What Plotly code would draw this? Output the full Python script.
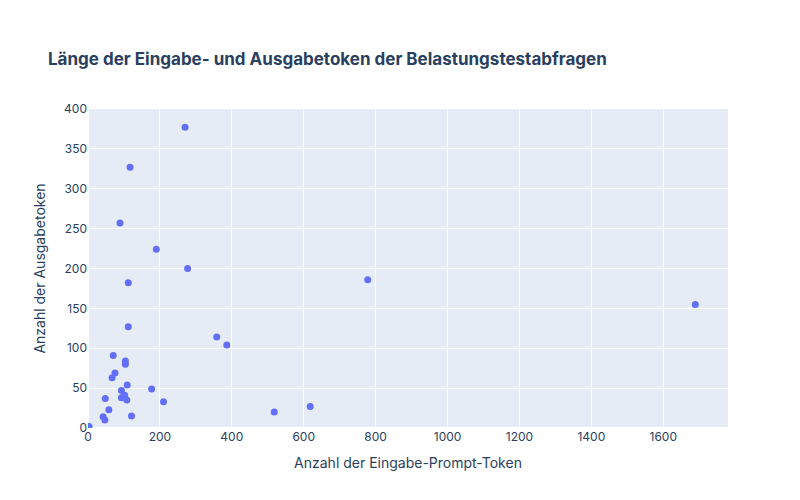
import plotly.graph_objects as go

input_tokens = [270,117,89,190,277,112,778,1689,112,358,386,518,618,
                70,104,104,75,67,109,93,177,48,93,102,108,210,58,42,47,121,3]
output_tokens = [377,327,257,224,200,182,186,155,127,114,104,20,27,
                 91,84,80,69,63,54,47,49,37,38,41,35,33,23,14,10,15,2]

fig = go.Figure(go.Scatter(x=input_tokens, y=output_tokens, mode="markers",
                           marker=dict(color="#636efa", size=7)))
fig.update_layout(
    width=800, height=500,
    template="plotly",
    font=dict(family="Inter, sans-serif", color="#2a3f5f", size=12),
    title=dict(text="<b>Länge der Eingabe- und Ausgabetoken der Belastungstestabfragen</b>",
               x=0.05, y=0.91, font=dict(size=17)),
    xaxis=dict(title=dict(text="Anzahl der Eingabe-Prompt-Token", font=dict(size=14)),
               range=[0, 1780]),
    yaxis=dict(title=dict(text="Anzahl der Ausgabetoken", font=dict(size=14)), range=[0, 400]),
    margin=dict(l=80, r=80, t=101, b=80),
)
fig.write_html("out.html")
